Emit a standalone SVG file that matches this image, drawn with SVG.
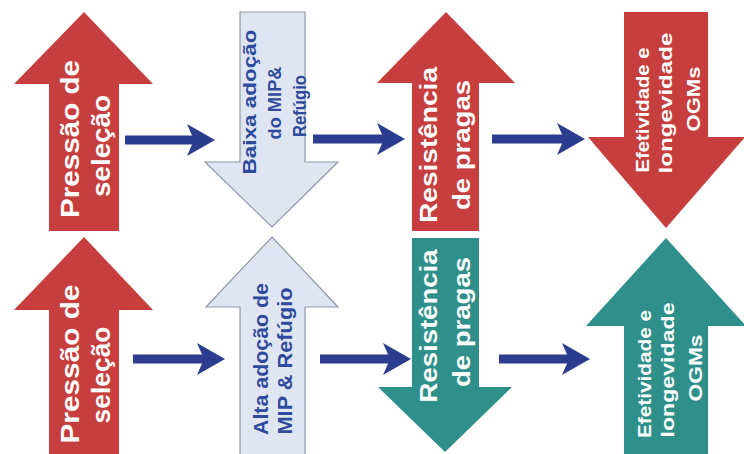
<svg xmlns="http://www.w3.org/2000/svg" width="744" height="454" viewBox="0 0 744 454">
<defs>
<style>
.red{fill:#c63e3d;}
.teal{fill:#2f8f8a;}
.light{fill:#dfe6f2;stroke:#8e98a8;stroke-width:1.2;}
text{font-family:"Liberation Sans",Arial,sans-serif;font-weight:bold;text-anchor:middle;}
.w{fill:#ffffff;}
.b{fill:#2f4a9c;}
.conn{stroke:#2c3d8f;stroke-width:9;fill:none;marker-end:url(#head);}
</style>
<marker id="head" viewBox="0 0 28 32" markerWidth="28" markerHeight="32" markerUnits="userSpaceOnUse" refX="8" refY="16" orient="auto">
<path d="M0,0 L28,16 L0,32 L7,16 Z" fill="#2c3d8f"/>
</marker>
</defs>
<rect width="744" height="454" fill="#ffffff"/>

<g id="pressao-top">
<polygon class="red" points="84,12 153,84 119,84 119,231 49,231 49,84 14,84"/>
<text class="w" font-size="25" transform="translate(79,139) rotate(-90)" textLength="158" lengthAdjust="spacingAndGlyphs">Pressão de</text>
<text class="w" font-size="25" transform="translate(110,146) rotate(-90)" textLength="102" lengthAdjust="spacingAndGlyphs">seleção</text>
</g>

<g id="pressao-bottom">
<polygon class="red" points="84,237 153,310 119,310 119,456 49,456 49,310 14,310"/>
<text class="w" font-size="25" transform="translate(79,364) rotate(-90)" textLength="159" lengthAdjust="spacingAndGlyphs">Pressão de</text>
<text class="w" font-size="25" transform="translate(110,375) rotate(-90)" textLength="97" lengthAdjust="spacingAndGlyphs">seleção</text>
</g>

<g id="baixa-adocao">
<polygon class="light" points="240,12 305,12 305,162 338,162 272,227 205,162 240,162"/>
<text class="b" font-size="18" transform="translate(256,102) rotate(-90)" textLength="145" lengthAdjust="spacingAndGlyphs">Baixa adoção</text>
<text class="b" font-size="18" transform="translate(281,103) rotate(-90)" textLength="73" lengthAdjust="spacingAndGlyphs">do MIP&amp;</text>
<text class="b" font-size="18" transform="translate(306,106) rotate(-90)" textLength="62" lengthAdjust="spacingAndGlyphs">Refúgio</text>
</g>

<g id="alta-adocao">
<polygon class="light" points="272,237 338,307 305,307 305,456 240,456 240,307 206,307"/>
<text class="b" font-size="20" transform="translate(268,359) rotate(-90)" textLength="152" lengthAdjust="spacingAndGlyphs">Alta adoção de</text>
<text class="b" font-size="20" transform="translate(292,361) rotate(-90)" textLength="147" lengthAdjust="spacingAndGlyphs">MIP &amp; Refúgio</text>
</g>

<g id="resistencia-top">
<polygon class="red" points="446,12 515,83 479,83 479,231 412,231 412,83 377,83"/>
<text class="w" font-size="24" transform="translate(437,145) rotate(-90)" textLength="156" lengthAdjust="spacingAndGlyphs">Resistência</text>
<text class="w" font-size="24" transform="translate(470,145) rotate(-90)" textLength="130" lengthAdjust="spacingAndGlyphs">de pragas</text>
</g>

<g id="resistencia-bottom">
<polygon class="teal" points="412,238 479,238 479,387 512,387 445,452 378,387 412,387"/>
<text class="w" font-size="24" transform="translate(437,326) rotate(-90)" textLength="153" lengthAdjust="spacingAndGlyphs">Resistência</text>
<text class="w" font-size="24" transform="translate(470,322) rotate(-90)" textLength="130" lengthAdjust="spacingAndGlyphs">de pragas</text>
</g>

<g id="efetividade-top">
<polygon class="red" points="624,12 708,12 708,137 745,137 666,228 588,137 624,137"/>
<text class="w" font-size="19" transform="translate(649,110) rotate(-90)" textLength="125" lengthAdjust="spacingAndGlyphs">Efetividade e</text>
<text class="w" font-size="19" transform="translate(672,103) rotate(-90)" textLength="141" lengthAdjust="spacingAndGlyphs">longevidade</text>
<text class="w" font-size="19" transform="translate(700,99) rotate(-90)" textLength="65" lengthAdjust="spacingAndGlyphs">OGMs</text>
</g>

<g id="efetividade-bottom">
<polygon class="teal" points="666,238 746,326 708,326 708,456 624,456 624,326 586,326"/>
<text class="w" font-size="19" transform="translate(651,374) rotate(-90)" textLength="128" lengthAdjust="spacingAndGlyphs">Efetividade e</text>
<text class="w" font-size="19" transform="translate(674,370) rotate(-90)" textLength="135" lengthAdjust="spacingAndGlyphs">longevidade</text>
<text class="w" font-size="19" transform="translate(702,368) rotate(-90)" textLength="67" lengthAdjust="spacingAndGlyphs">OGMs</text>
</g>

<g id="connectors">
<line class="conn" x1="125" y1="140" x2="195" y2="140"/>
<line class="conn" x1="313" y1="139" x2="385" y2="139"/>
<line class="conn" x1="492" y1="139" x2="565" y2="139"/>
<line class="conn" x1="133" y1="359" x2="205" y2="359"/>
<line class="conn" x1="320" y1="359" x2="391" y2="359"/>
<line class="conn" x1="499" y1="359" x2="570" y2="359"/>
</g>
</svg>
